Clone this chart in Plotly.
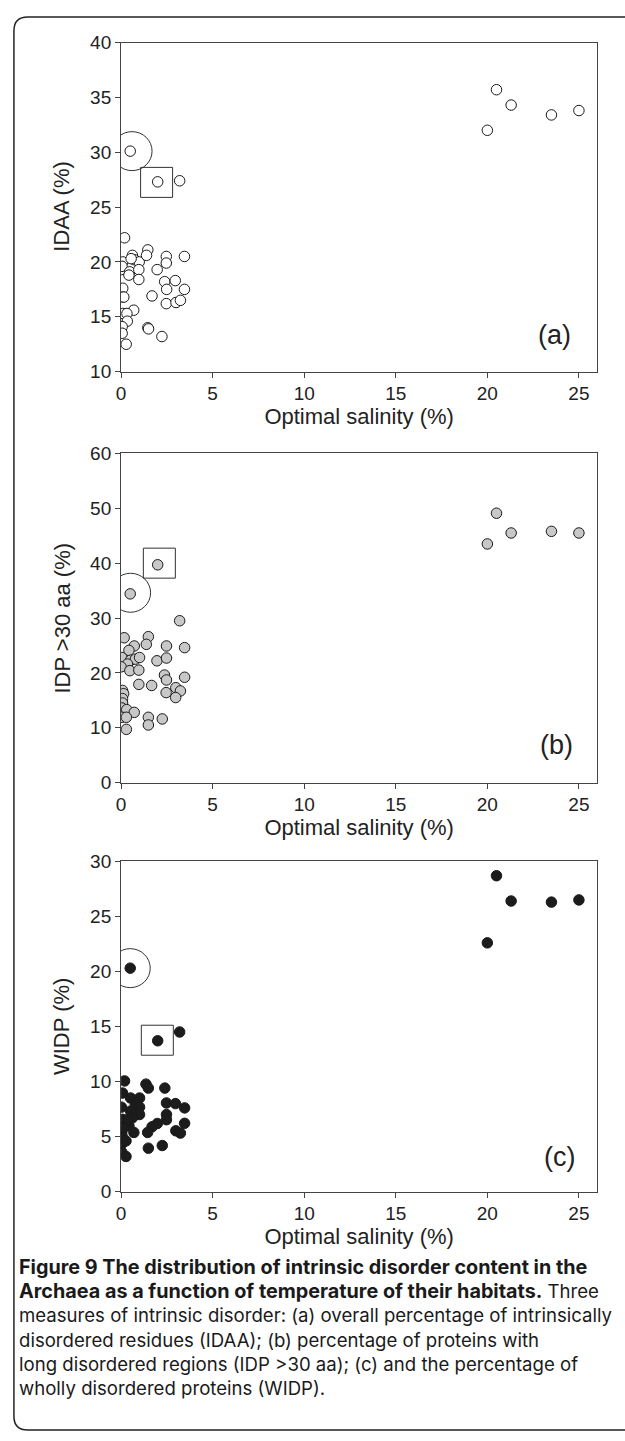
import plotly.graph_objects as go

W, H = 625, 1441

# ---- data: optimal salinity (%) vs. disorder measures ----
salinity_a = [20.0, 20.5, 21.3, 23.5, 25.0, 0.5, 2.0, 3.2,
              0.19, 0.09, 0.0, 0.05, 0.62, 0.73, 0.99, 0.47, 0.43, 0.97, 0.97,
              1.46, 1.39, 1.97, 2.47, 2.47, 3.46, 2.38, 2.96, 2.49, 3.46, 1.69,
              2.47, 3.0, 3.24, 0.09, 0.09, 0.15, 0.69, 0.09, 0.32, 0.34, 0.06,
              0.06, 0.28, 1.46, 1.5, 2.23, 0.55]
idaa = [32.0, 35.7, 34.3, 33.4, 33.8, 30.1, 27.3, 27.4,
        22.2, 20.0, 19.3, 19.6, 20.6, 20.2, 20.0, 19.1, 18.8, 19.3, 18.4,
        21.1, 20.6, 19.3, 20.5, 19.9, 20.5, 18.2, 18.3, 17.5, 17.5, 16.9,
        16.2, 16.3, 16.5, 17.6, 16.8, 16.8, 15.6, 15.3, 15.3, 14.6, 14.1,
        13.5, 12.5, 14.0, 13.9, 13.2, 20.3]

salinity_b = [20.0, 20.5, 21.3, 23.5, 25.0, 0.5, 2.0, 3.2,
              0.17, 1.49, 1.38, 0.72, 2.48, 3.47, 0.43, 0.04, 0.52, 0.78, 1.01,
              0.35, 0.0, 0.48, 0.97, 1.96, 2.48, 2.37, 2.48, 3.47, 0.97, 1.67,
              2.99, 3.24, 2.46, 2.98, 0.08, 0.14, 0.08, 0.08, 0.04, 0.31, 0.72,
              0.04, 0.29, 1.49, 1.49, 2.25, 0.29]
idp30 = [43.5, 49.1, 45.5, 45.8, 45.5, 34.4, 39.7, 29.5,
         26.4, 26.6, 25.2, 24.9, 24.9, 24.6, 24.1, 22.8, 22.3, 22.5, 22.8,
         21.6, 21.1, 20.4, 20.5, 22.2, 22.7, 19.6, 18.7, 19.2, 17.9, 17.7,
         17.3, 16.7, 16.4, 15.5, 16.8, 16.2, 15.3, 14.5, 13.6, 13.3, 12.8,
         11.9, 11.9, 11.9, 10.5, 11.6, 9.7]

salinity_c = [20.0, 20.5, 21.3, 23.5, 25.0, 0.5, 2.0, 3.2,
              0.19, 0.08, 0.02, 0.08, 0.04, 0.06, 0.04, 0.04, 0.27, 0.27, 0.52,
              1.01, 0.78, 1.01, 0.52, 1.01, 0.62, 0.43, 0.7, 1.36, 1.49, 2.39,
              2.48, 2.97, 3.47, 2.48, 2.48, 1.98, 1.69, 1.45, 3.47, 2.99, 3.24,
              1.49, 2.25, 0.14, 0.39]
widp = [22.6, 28.7, 26.4, 26.3, 26.5, 20.3, 13.7, 14.5,
        10.05, 8.95, 7.67, 6.56, 5.37, 5.0, 4.33, 3.58, 3.19, 4.6, 8.5,
        8.5, 7.9, 7.67, 7.31, 7.0, 6.7, 5.97, 5.37, 9.76, 9.4, 9.4,
        8.05, 7.99, 7.6, 7.0, 6.53, 6.18, 5.88, 5.37, 6.2, 5.52, 5.31,
        3.94, 4.18, 5.82, 6.56]

panel_tags = ["(a)", "(b)", "(c)"]
y_titles = ["IDAA (%)", "IDP >30 aa (%)", "WIDP (%)"]
x_title = "Optimal salinity (%)"
x_ticks = [0, 5, 10, 15, 20, 25]

BOLD = "<span style='font-size:19.8px'><b>{}</b></span>"
REG = "<span style='font-size:18.6px'>{}</span>"
caption_lines = [
    BOLD.format("Figure 9 The distribution of intrinsic disorder content in the"),
    BOLD.format("Archaea as a function of temperature of their habitats.")
    + REG.format(" Three"),
    REG.format("measures of intrinsic disorder: (a) overall percentage of intrinsically"),
    REG.format("disordered residues (IDAA); (b) percentage of proteins with"),
    REG.format("long disordered regions (IDP >30 aa); (c) and the percentage of"),
    REG.format("wholly disordered proteins (WIDP)."),
]

# ---- layout geometry (pixels from top-left) ----
PLOT_L, PLOT_R = 117, 597
panel_px = [(33, 367), (450, 784), (864, 1199)]
YTITLE_X = 57
CAPTION_TOP = 1261

def px_x(v):
    return v / W

def px_y(v):
    return 1 - v / H

fig = go.Figure()

fills = ["#ffffff", "#c8c8c8", "#1c1c1c"]
series = [(salinity_a, idaa), (salinity_b, idp30), (salinity_c, widp)]
for i, (xs, ys) in enumerate(series):
    sfx = "" if i == 0 else str(i + 1)
    fig.add_trace(go.Scatter(
        x=xs, y=ys, mode="markers",
        xaxis="x" + sfx, yaxis="y" + sfx,
        marker=dict(size=10.5, color=fills[i],
                    line=dict(color="#1a1a1a", width=1)),
        hoverinfo="x+y",
    ))

axis_family = "Liberation Sans, Arial, sans-serif"
tick_font = dict(family=axis_family, size=19, color="#222")
title_font = dict(family=axis_family, size=22, color="#222")
y_ranges = [(10, 40, 5), (0, 60, 10), (0, 30, 5)]

layout = dict(
    width=W, height=H,
    margin=dict(l=0, r=0, t=0, b=0),
    paper_bgcolor="white", plot_bgcolor="white",
    showlegend=False,
)
for i in range(3):
    sfx = "" if i == 0 else str(i + 1)
    top, bot = panel_px[i]
    lo, hi, dt = y_ranges[i]
    layout["xaxis" + sfx] = dict(
        domain=[px_x(PLOT_L), px_x(PLOT_R)], anchor="y" + sfx,
        range=[0, 26], tickvals=x_ticks, ticks="outside", ticklen=5,
        tickcolor="#444", showline=True, mirror=True, linecolor="#444",
        linewidth=1, showgrid=False, zeroline=False, tickfont=tick_font,
        ticklabelstandoff=0,
        title=dict(text=x_title, font=title_font, standoff=3),
    )
    layout["yaxis" + sfx] = dict(
        domain=[px_y(bot), px_y(top)], anchor="x" + sfx,
        range=[lo, hi], dtick=dt, tick0=lo, ticks="outside", ticklen=5,
        tickcolor="#444", showline=True, mirror=True, linecolor="#444",
        linewidth=1, showgrid=False, zeroline=False, tickfont=tick_font,
    )
    # rotated y-axis title
    fig.add_annotation(x=px_x(YTITLE_X), y=px_y((top + bot) / 2),
                       xref="paper", yref="paper", text=y_titles[i],
                       textangle=-90, showarrow=False, font=title_font,
                       xanchor="center", yanchor="middle")
fig.update_layout(**layout)

# circle and square highlights around two organisms in each panel
circle_centres = [(0.6, 30.1), (0.52, 34.6), (0.5, 20.3)]
square_centres = [(1.94, 27.25), (2.09, 40.0), (1.98, 13.75)]
tag_pos = [(23.65, 13.3), (23.8, 6.9), (23.95, 3.1)]
for i in range(3):
    sfx = "" if i == 0 else str(i + 1)
    cx, cy = circle_centres[i]
    fig.add_shape(type="circle", xref="x" + sfx, yref="y" + sfx,
                  xsizemode="pixel", ysizemode="pixel", xanchor=cx, yanchor=cy,
                  x0=-20, x1=20, y0=-19.5, y1=19.5,
                  line=dict(color="#333", width=1))
    sx, sy = square_centres[i]
    fig.add_shape(type="rect", xref="x" + sfx, yref="y" + sfx,
                  xsizemode="pixel", ysizemode="pixel", xanchor=sx, yanchor=sy,
                  x0=-16, x1=16, y0=-15, y1=15,
                  line=dict(color="#333", width=1))
    tx, ty = tag_pos[i]
    fig.add_annotation(x=tx, y=ty, xref="x" + sfx, yref="y" + sfx,
                       text=panel_tags[i], showarrow=False,
                       font=dict(family=axis_family, size=27, color="#222"))

# caption block (base size sets the line pitch; spans set glyph sizes)
fig.add_annotation(x=px_x(12), y=px_y(CAPTION_TOP),
                   xref="paper", yref="paper",
                   xanchor="left", yanchor="top", align="left",
                   text="<br>".join(caption_lines), showarrow=False,
                   font=dict(family="Inter, Open Sans, sans-serif", size=18.6,
                             color="#1a1a1a"))

# outer frame with rounded left corners
r = 14
path = (f"M {px_x(W + 2)} {px_y(7)} L {px_x(9 + r)} {px_y(7)} "
        f"Q {px_x(9)} {px_y(7)} {px_x(9)} {px_y(7 + r)} "
        f"L {px_x(9)} {px_y(1441 - r)} "
        f"Q {px_x(9)} {px_y(1441)} {px_x(9 + r)} {px_y(1441)} "
        f"L {px_x(W + 2)} {px_y(1441)}")
fig.add_shape(type="path", xref="paper", yref="paper", path=path,
              line=dict(color="#222", width=1.5))

fig.write_html("out.html")
